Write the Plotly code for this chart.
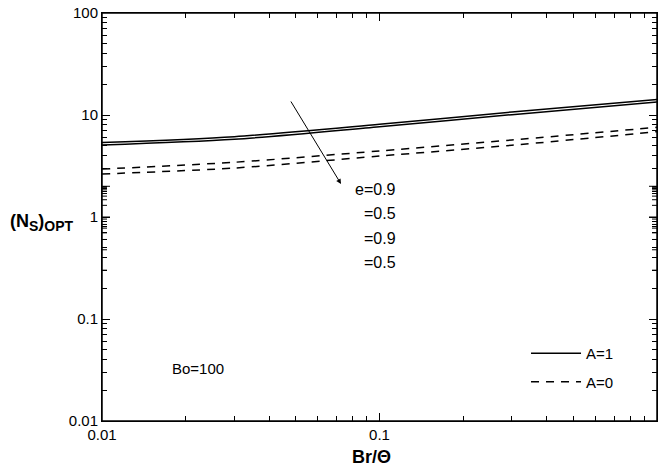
import math
import plotly.graph_objects as go

# Data (x = Br/Θ, y = (N_S)_OPT)
br = [0.01, 0.03, 0.1, 0.3, 1.0]
ns_A1_e09 = [5.37, 6.13, 8.11, 10.7, 14.2]
ns_A1_e05 = [5.08, 5.78, 7.68, 10.07, 13.4]
ns_A0_e09 = [2.95, 3.44, 4.44, 5.69, 7.57]
ns_A0_e05 = [2.64, 3.02, 3.96, 5.05, 6.86]

x_tickvals = [0.01, 0.1, 1]
x_ticktext = ["0.01", "0.1", "1"]
y_tickvals = [0.01, 0.1, 1, 10, 100]
y_ticktext = ["0.01", "0.1", "1", "10", "100"]
e_labels = ["e=0.9", "=0.5", "=0.9", "=0.5"]

FONT = "Liberation Sans, Arial, sans-serif"

fig = go.Figure()
series = [
    (ns_A1_e09, "solid", "A=1", True),
    (ns_A1_e05, "solid", "A=1", False),
    (ns_A0_e09, "8px,7px", "A=0", True),
    (ns_A0_e05, "8px,7px", "A=0", False),
]
for ys, dash, name, show in series:
    fig.add_trace(go.Scatter(
        x=br, y=ys, mode="lines", name=name, legendgroup=name, showlegend=show,
        line=dict(color="black", width=1.5, dash=dash, shape="spline", smoothing=0.8),
    ))

def axis_common(vals, texts):
    return dict(
        type="log", showline=True, linecolor="black", mirror="ticks",
        tickmode="linear", tick0=0, dtick=1,
        labelalias={str(v): t for v, t in zip(vals, texts)},
        ticks="inside", ticklen=8, tickcolor="black",
        tickfont=dict(family=FONT, size=15, color="black"),
        minor=dict(ticks="inside", ticklen=5, tickcolor="black", dtick="D1"),
    )

fig.update_xaxes(range=[-2, 0], **axis_common(x_tickvals, x_ticktext))
fig.update_yaxes(range=[-2, 2], **axis_common(y_tickvals, y_ticktext))

# Tick marks on all four sides (inside), drawn as guide shapes
PLOT_W, PLOT_H = 555.0, 408.0
MAJ, MIN = 8.0, 5.0
tick_shapes = []

def minor_list(vals):
    out = []
    for v in vals[:-1]:
        for m in range(2, 10):
            out.append(v * m)
    return out

for vals, ln in ((x_tickvals, MAJ), (minor_list(x_tickvals), MIN)):
    for v in vals:
        lx = math.log10(v)
        for y0, y1 in ((0, ln / PLOT_H), (1, 1 - ln / PLOT_H)):
            tick_shapes.append(dict(type="line", xref="x", yref="paper", x0=lx, x1=lx,
                                    y0=y0, y1=y1, line=dict(color="black", width=1),
                                    layer="above"))
for vals, ln in ((y_tickvals, MAJ), (minor_list(y_tickvals), MIN)):
    for v in vals:
        ly = math.log10(v)
        for x0, x1 in ((0, ln / PLOT_W), (1, 1 - ln / PLOT_W)):
            tick_shapes.append(dict(type="line", xref="paper", yref="y", x0=x0, x1=x1,
                                    y0=ly, y1=ly, line=dict(color="black", width=1),
                                    layer="above"))
# frame
tick_shapes.append(dict(type="rect", xref="paper", yref="paper", x0=0, x1=1, y0=0, y1=1,
                        line=dict(color="black", width=1.5), layer="above"))

annotations = [
    dict(text="<b>(N<sub><span style='font-size:14px'>S</span></sub>)"
              "<sub><span style='font-size:14px'>OPT</span></sub></b>",
         xref="paper", yref="paper",
         x=-0.1694, y=0.4877, xanchor="left", yanchor="middle", showarrow=False,
         font=dict(family=FONT, size=18, color="black")),
    dict(text="<b>Br/Θ</b>", xref="paper", yref="paper", x=0.4847, y=-0.088,
         xanchor="center", yanchor="middle", showarrow=False,
         font=dict(family=FONT, size=18, color="black")),
    dict(text="Bo=100", xref="paper", yref="paper", x=0.1225, y=0.1275,
         xanchor="left", yanchor="middle", showarrow=False,
         font=dict(family=FONT, size=15, color="black")),
    dict(text="", x=-1.1387, y=0.324, ax=-1.3225, ay=1.147, xref="x", yref="y",
         axref="x", ayref="y", showarrow=True, arrowhead=2, arrowsize=1,
         arrowwidth=1, arrowcolor="black"),
]
for lbl, yp in zip(e_labels, [0.5674, 0.5074, 0.4473, 0.3873]):
    annotations.append(dict(text=lbl, xref="paper", yref="paper", x=0.5333, y=yp,
                            xanchor="right", yanchor="middle", showarrow=False,
                            font=dict(family=FONT, size=16, color="black")))

fig.update_layout(
    width=659, height=470, margin=dict(l=102, r=2, t=13, b=49),
    plot_bgcolor="white",
    font=dict(family=FONT, size=15, color="black"),
    showlegend=True,
    legend=dict(x=0.764, y=0.131, xanchor="left", yanchor="middle",
                bgcolor="rgba(0,0,0,0)", font=dict(family=FONT, size=15, color="black"),
                tracegroupgap=6, itemwidth=50),
    annotations=annotations,
    shapes=tick_shapes,
)
fig.write_html("out.html")
